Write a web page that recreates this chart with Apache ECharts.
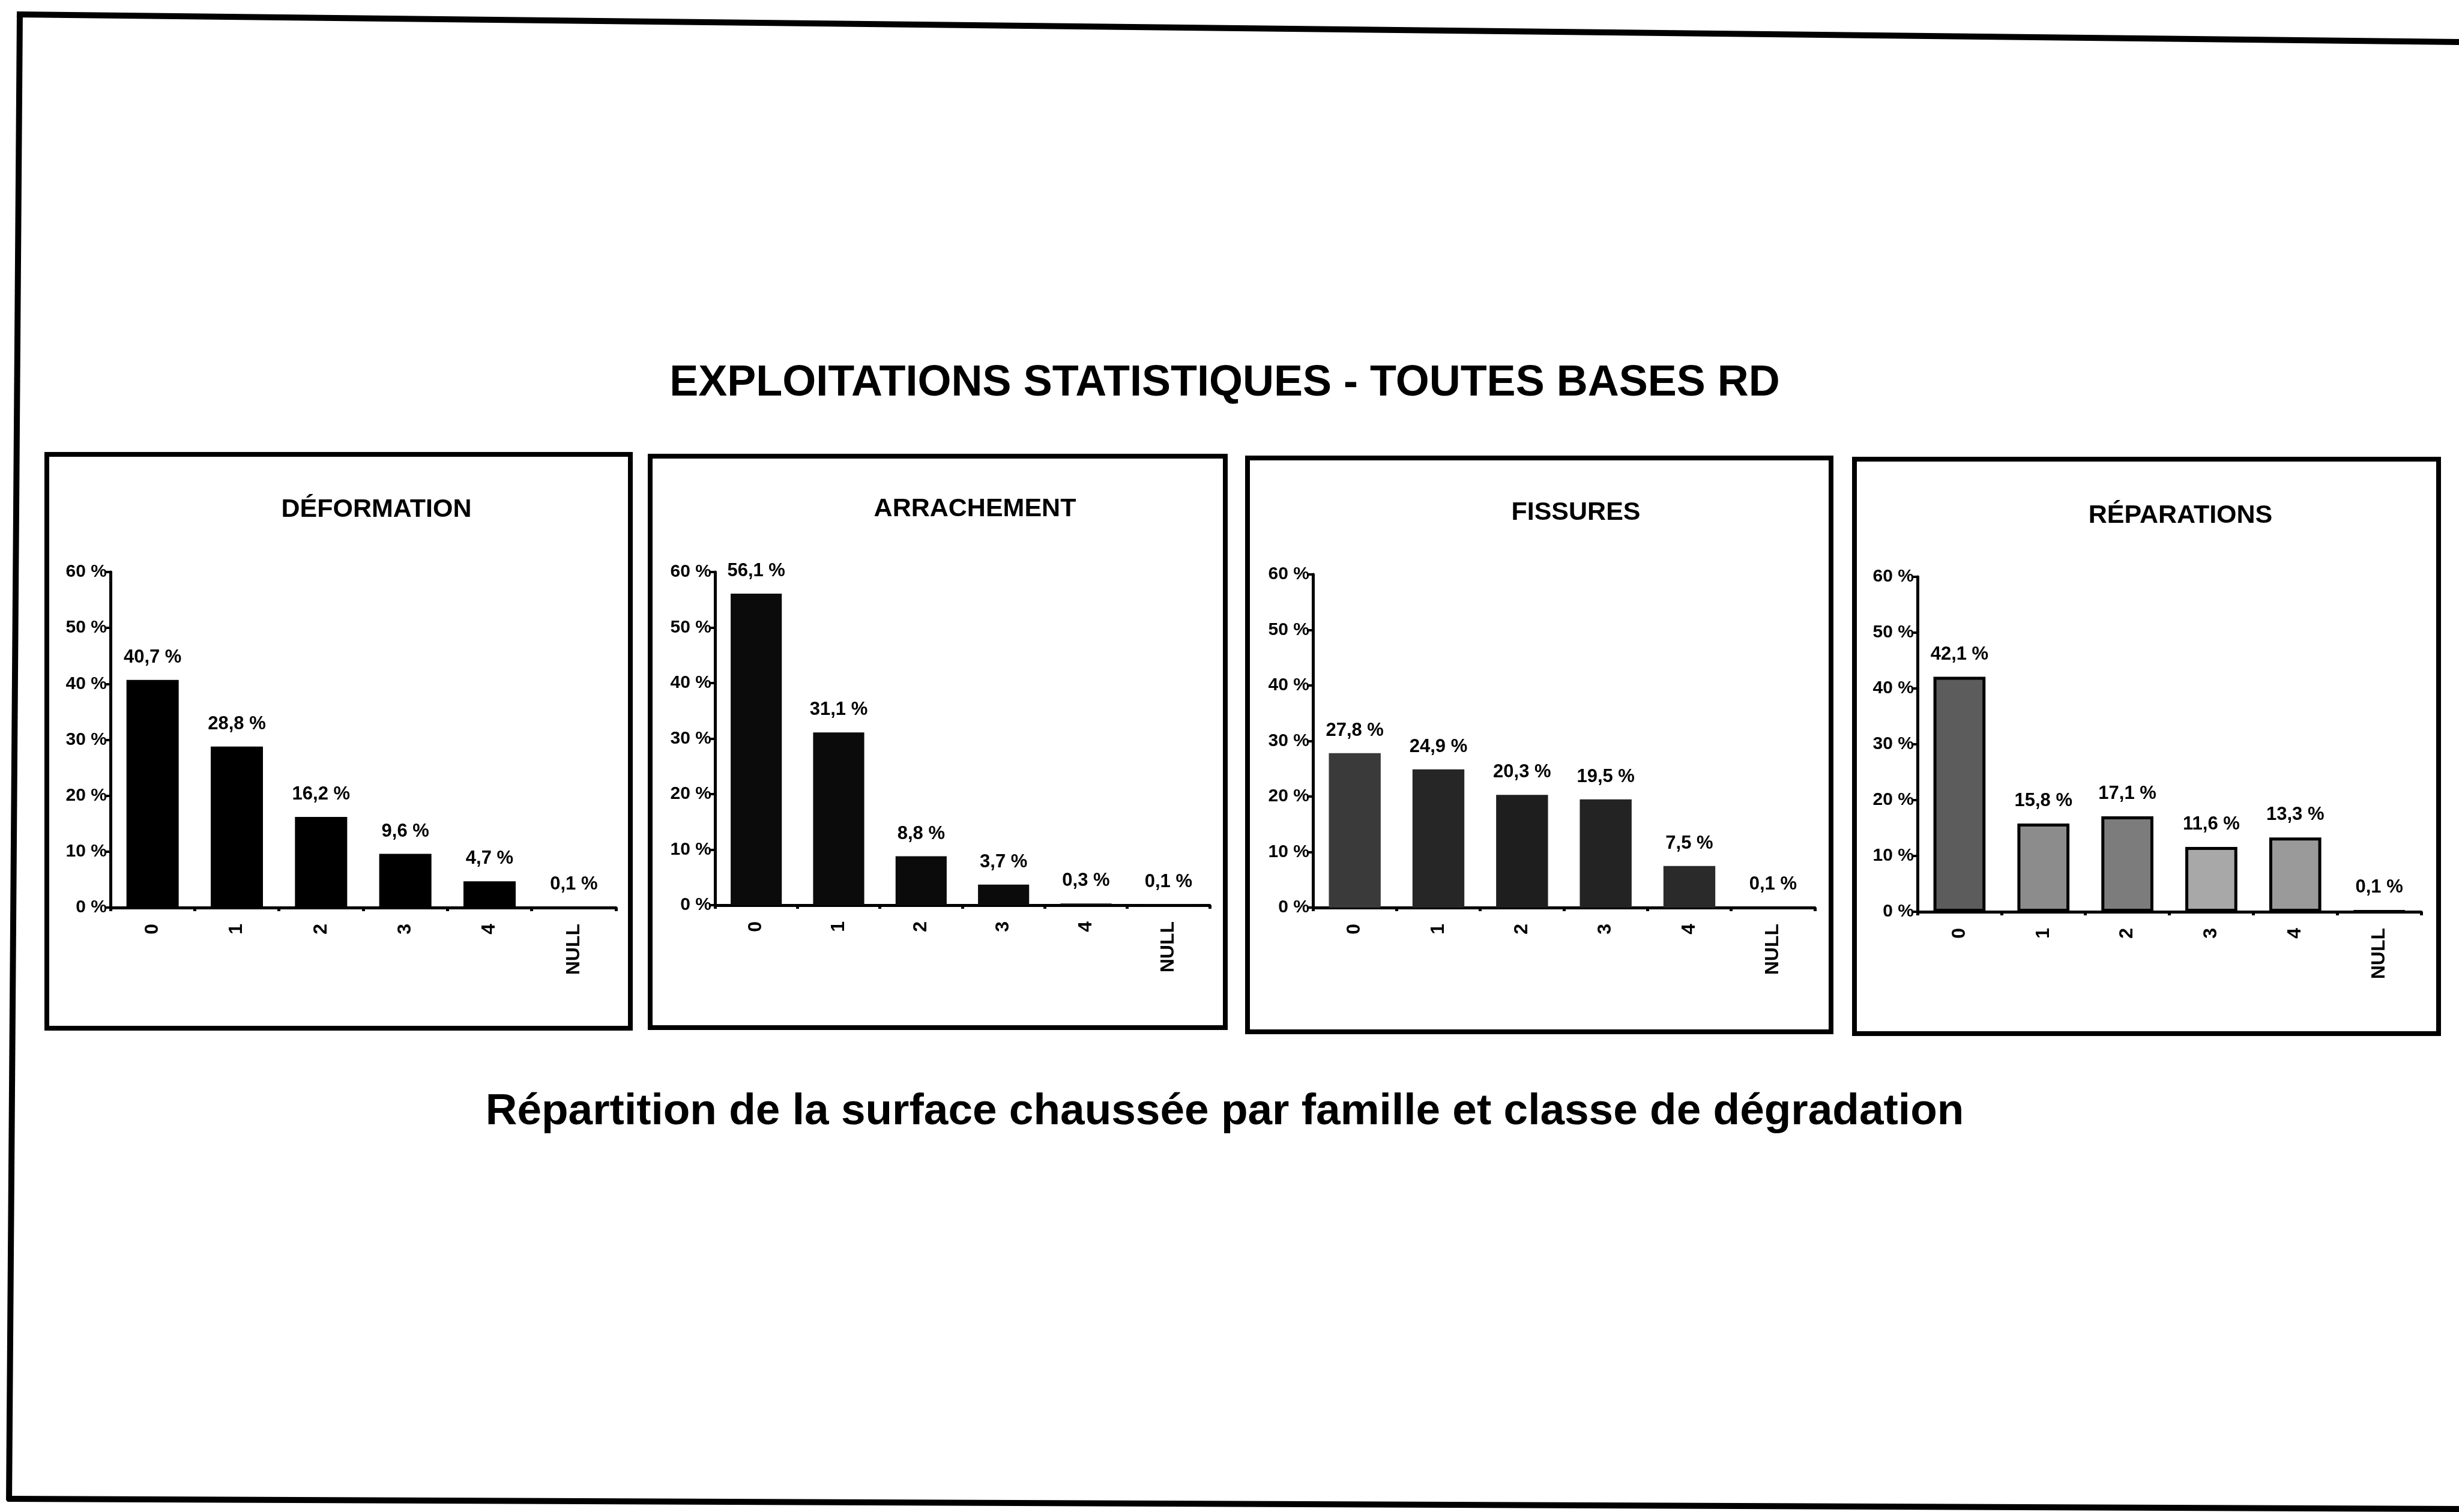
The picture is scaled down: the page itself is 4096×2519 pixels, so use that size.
<!DOCTYPE html>
<html>
<head>
<meta charset="utf-8">
<script src="https://cdn.jsdelivr.net/npm/echarts@6/dist/echarts.min.js"></script>
<style>
html,body{margin:0;padding:0;background:#fff;}
#chart{width:4096px;height:2519px;}
</style>
</head>
<body>
<div id="chart"></div>
<script>
// ---- data ----
const categories = ['0', '1', '2', '3', '4', 'NULL'];
const deformation = [40.7, 28.8, 16.2, 9.6, 4.7, 0.1];
const arrachement = [56.1, 31.1, 8.8, 3.7, 0.3, 0.1];
const fissures = [27.8, 24.9, 20.3, 19.5, 7.5, 0.1];
const reparations = [42.1, 15.8, 17.1, 11.6, 13.3, 0.1];
const panelTitles = ['DÉFORMATION', 'ARRACHEMENT', 'FISSURES', 'RÉPARATIONS'];
const yMin = 0, yMax = 60, yStep = 10;
const mainTitle = 'EXPLOITATIONS STATISTIQUES - TOUTES BASES RD';
const subTitle = 'Répartition de la surface chaussée par famille et classe de dégradation';

// ---- layout / styles (reference pixels, scaled by S) ----
const S = 0.798;
const FONT = '"Liberation Sans", Arial, Helvetica, sans-serif';
const seriesData = [deformation, arrachement, fissures, reparations];
const panels = [
  {box: [98, 948, 1316, 2146], grid: [231, 1194, 1286, 1894], tx: 786, tb: 1083},
  {box: [1357, 953, 2557, 2146], grid: [1492, 1194, 2525, 1889], tx: 2035, tb: 1082},
  {box: [2604, 956, 3822, 2154], grid: [2740, 1199, 3788, 1895], tx: 3290, tb: 1089},
  {box: [3871, 959, 5090, 2158], grid: [4002, 1204, 5054, 1903], tx: 4552, tb: 1095}
];
const barColors = [
  ['#000', '#000', '#000', '#000', '#000', '#000'],
  ['#0b0b0b', '#0b0b0b', '#0b0b0b', '#0b0b0b', '#0b0b0b', '#0b0b0b'],
  ['#3a3a3a', '#262626', '#1e1e1e', '#232323', '#2a2a2a', '#000'],
  ['#5c5c5c', '#8c8c8c', '#7c7c7c', '#a8a8a8', '#9a9a9a', '#000']
];
const barBorder = [0, 0, 0, 5];

const s = v => Math.round(v * S);
const fmt = v => v.toFixed(1).replace('.', ',') + ' %';

const grids = [], xAxes = [], yAxes = [], series = [], titles = [], graphics = [];

titles.push({text: mainTitle, left: s(2556), top: s(833 - 32), padding: 0,
  textAlign: 'center', textVerticalAlign: 'middle',
  textStyle: {fontFamily: FONT, fontWeight: 'bold', fontSize: s(90), color: '#000'}});
titles.push({text: subTitle, left: s(2557), top: s(2355 - 33), padding: 0,
  textAlign: 'center', textVerticalAlign: 'middle',
  textStyle: {fontFamily: FONT, fontWeight: 'bold', fontSize: s(91), color: '#000'}});

panels.forEach((p, i) => {
  const [gx1, gy1, gx2, gy2] = p.grid;
  grids.push({left: s(gx1), top: s(gy1), width: s(gx2 - gx1), height: s(gy2 - gy1), containLabel: false});
  xAxes.push({
    type: 'category', gridIndex: i, data: categories,
    axisLine: {show: true, lineStyle: {color: '#000', width: 5}},
    axisTick: {show: true, length: 6, lineStyle: {color: '#000', width: 5}},
    axisLabel: {rotate: 90, margin: s(34), color: '#000', fontFamily: FONT, fontWeight: 'bold', fontSize: s(40), interval: 0},
    splitLine: {show: false}
  });
  yAxes.push({
    type: 'value', gridIndex: i, min: yMin, max: yMax, interval: yStep,
    axisLine: {show: true, lineStyle: {color: '#000', width: 5}},
    axisTick: {show: true, length: s(12), lineStyle: {color: '#000', width: 4}},
    axisLabel: {formatter: '{value} %', margin: s(8), color: '#000', fontFamily: FONT, fontWeight: 'bold', fontSize: s(38)},
    splitLine: {show: false}
  });
  series.push({
    type: 'bar', xAxisIndex: i, yAxisIndex: i, barWidth: '62%',
    data: seriesData[i].map((v, j) => ({value: v, itemStyle: {color: barColors[i][j],
      borderColor: '#000', borderWidth: barBorder[i]}})),
    label: {show: true, position: 'top', distance: s(28), formatter: o => fmt(o.value),
      color: '#000', fontFamily: FONT, fontWeight: 'bold', fontSize: s(39)},
    animation: false
  });
  titles.push({text: panelTitles[i], left: s(p.tx), top: s(p.tb - 19), padding: 0,
    textAlign: 'center', textVerticalAlign: 'middle',
    textStyle: {fontFamily: FONT, fontWeight: 'bold', fontSize: s(54), color: '#000'}});
  const [bx1, by1, bx2, by2] = p.box;
  graphics.push({type: 'rect', shape: {x: s(bx1), y: s(by1), width: s(bx2 - bx1), height: s(by2 - by1)},
    style: {fill: 'none', stroke: '#000', lineWidth: 8}, z: 10});
});

// outer frame of the scanned page
graphics.push({type: 'line', shape: {x1: s(35), y1: s(30), x2: 4096, y2: s(88)}, style: {stroke: '#000', lineWidth: 10}});
graphics.push({type: 'line', shape: {x1: s(41), y1: s(26), x2: s(19), y2: s(3133)}, style: {stroke: '#000', lineWidth: 10}});
graphics.push({type: 'line', shape: {x1: s(15), y1: s(3129), x2: 4096, y2: s(3150)}, style: {stroke: '#000', lineWidth: 10}});

const chart = echarts.init(document.getElementById('chart'), null, {renderer: 'canvas', width: 4096, height: 2519});
chart.setOption({
  backgroundColor: '#fff',
  animation: false,
  title: titles,
  grid: grids,
  xAxis: xAxes,
  yAxis: yAxes,
  series: series,
  graphic: graphics
});
</script>
</body>
</html>
